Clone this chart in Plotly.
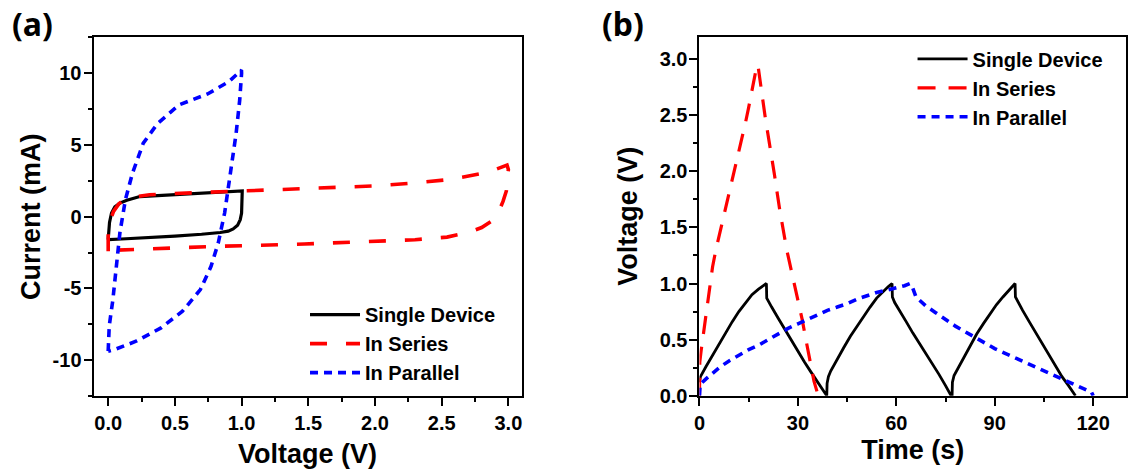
import plotly.graph_objects as go

# ---------------- Panel (a): CV curves ----------------
single_cv_v = [0.0, 0.003, 0.01, 0.025, 0.05, 0.088, 0.14, 0.237, 0.5, 0.75, 1.0, 1.005, 1.0, 0.99, 0.97, 0.937, 0.9, 0.84, 0.7, 0.5, 0.1, 0.0]
single_cv_i = [-1.6, -1.0, -0.4, 0.26, 0.7, 0.95, 1.15, 1.41, 1.55, 1.68, 1.82, 1.8, 0.25, -0.2, -0.6, -0.85, -1.0, -1.1, -1.22, -1.35, -1.55, -1.6]

series_cv_v = [0.0, 0.0, 0.01, 0.04, 0.08, 0.138, 0.2, 0.31, 0.5, 0.75, 0.94, 1.28, 1.6, 2.0, 2.29, 2.56, 2.84, 2.99, 3.0, 2.995, 2.985, 2.96, 2.93, 2.89, 2.8, 2.7, 2.54, 2.3, 2.0, 1.47, 0.8, 0.26, 0.02, 0.0]
series_cv_i = [-2.41, -1.14, -0.4, 0.37, 0.9, 1.3, 1.4, 1.53, 1.62, 1.7, 1.76, 1.9, 1.98, 2.15, 2.35, 2.6, 3.08, 3.6, 3.3, 2.57, 1.8, 1.07, 0.4, -0.2, -0.75, -1.1, -1.42, -1.6, -1.72, -1.9, -2.07, -2.25, -2.34, -2.41]

parallel_cv_v = [0.0, 0.008, 0.035, 0.062, 0.088, 0.129, 0.182, 0.263, 0.37, 0.53, 0.745, 0.905, 0.999, 1.0, 0.986, 0.959, 0.932, 0.905, 0.873, 0.825, 0.771, 0.691, 0.557, 0.396, 0.209, 0.048, 0.0]
parallel_cv_i = [-9.37, -7.6, -5.8, -3.5, -1.1, 1.18, 3.04, 5.13, 6.5, 7.8, 8.56, 9.42, 10.23, 10.0, 8.14, 5.8, 3.97, 2.34, 0.26, -1.83, -3.46, -5.08, -6.59, -7.75, -8.68, -9.26, -9.37]

# ---------------- Panel (b): GCD curves ----------------
single_gcd_t = [0.0, 0.3, 2, 4, 6, 8, 10, 12, 14, 16, 18, 19.5, 20.4,
                20.5, 21, 22, 24, 26, 28, 30, 32, 34, 36, 37.5, 38.6,
                38.8, 38.9, 39.3, 40, 42, 44, 46, 48, 50, 52, 54, 56, 57.5, 58.7,
                58.8, 59.5, 61, 63, 65, 67, 69, 71, 73, 75, 76.4, 76.7,
                77.0, 77.1, 77.6, 78.5, 80.5, 82.5, 84.5, 86.5, 88.5, 90.5, 92.5, 94.5, 96.2,
                96.3, 97, 98.5, 100.5, 102.5, 104.5, 106.5, 108.5, 110.5, 112.5, 114, 114.6]
single_gcd_v = [0.12, 0.17, 0.26, 0.36, 0.47, 0.57, 0.66, 0.75, 0.83, 0.9, 0.95, 0.98, 1.0,
                0.87, 0.84, 0.79, 0.69, 0.59, 0.49, 0.39, 0.3, 0.21, 0.12, 0.05, 0.0,
                0.0, 0.11, 0.17, 0.22, 0.33, 0.43, 0.53, 0.62, 0.71, 0.79, 0.87, 0.93, 0.97, 1.0,
                0.88, 0.83, 0.76, 0.66, 0.56, 0.47, 0.37, 0.28, 0.19, 0.09, 0.02, 0.0,
                0.0, 0.12, 0.18, 0.23, 0.34, 0.45, 0.55, 0.64, 0.73, 0.81, 0.88, 0.95, 1.0,
                0.88, 0.84, 0.76, 0.66, 0.56, 0.46, 0.36, 0.26, 0.17, 0.09, 0.03, 0.0]

series_gcd_t = [0.0, 0.1, 0.5, 1.2, 2, 3, 4, 5, 6.2, 8, 9.5, 11, 12.8, 14, 15, 16, 17.2, 17.8,
                18.3, 20, 22.8, 24.5, 26.6, 28.3, 29.9, 31.3, 32.7, 33.8, 34.9, 36.2]
series_gcd_v = [0.0, 0.3, 0.4, 0.55, 0.75, 0.95, 1.15, 1.3, 1.45, 1.66, 1.86, 2.05, 2.27, 2.43, 2.57, 2.72, 2.9, 2.95,
                2.85, 2.49, 1.98, 1.65, 1.3, 1.08, 0.88, 0.68, 0.46, 0.29, 0.13, 0.0]

parallel_gcd_t = [0.0, 0.2, 2, 4, 6, 9, 12, 15, 18, 21, 24, 27, 30, 33, 36, 39, 42, 45, 48, 51, 54, 57, 60, 62.5, 64.2,
                  65, 66, 67, 69, 72, 75, 78, 81, 84, 87, 90, 93, 96, 99, 102, 105, 108, 111, 114, 117, 119.5, 120]
parallel_gcd_v = [0.0, 0.1, 0.15, 0.2, 0.25, 0.31, 0.36, 0.41, 0.45, 0.5, 0.55, 0.6, 0.64, 0.68, 0.72, 0.76, 0.79, 0.82, 0.86, 0.89, 0.92, 0.94, 0.96, 0.98, 1.0,
                  0.96, 0.88, 0.85, 0.8, 0.74, 0.68, 0.62, 0.57, 0.52, 0.47, 0.42, 0.38, 0.34, 0.3, 0.26, 0.22, 0.18, 0.14, 0.1, 0.06, 0.03, 0.0]

legend_names = ["Single Device", "In Series", "In Parallel"]

# ---------------- styles ----------------
FONT = "Liberation Sans, Arial, sans-serif"
BLACK = "#000000"
RED = "#ff0000"
BLUE = "#0000ff"

fig = go.Figure()

fig.add_trace(go.Scatter(x=single_cv_v, y=single_cv_i, mode="lines", name=legend_names[0],
                         line=dict(color=BLACK, width=3.2), xaxis="x", yaxis="y", legend="legend"))
fig.add_trace(go.Scatter(x=series_cv_v, y=series_cv_i, mode="lines", name=legend_names[1],
                         line=dict(color=RED, width=3.6, dash="17px,19px"), xaxis="x", yaxis="y", legend="legend"))
fig.add_trace(go.Scatter(x=parallel_cv_v, y=parallel_cv_i, mode="lines", name=legend_names[2],
                         line=dict(color=BLUE, width=3.6, dash="8px,6px"), xaxis="x", yaxis="y", legend="legend"))

fig.add_trace(go.Scatter(x=single_gcd_t, y=single_gcd_v, mode="lines", name=legend_names[0],
                         line=dict(color=BLACK, width=2.8), xaxis="x2", yaxis="y2", legend="legend2"))
fig.add_trace(go.Scatter(x=series_gcd_t, y=series_gcd_v, mode="lines", name=legend_names[1],
                         line=dict(color=RED, width=3.2, dash="18px,13px"), xaxis="x2", yaxis="y2", legend="legend2"))
fig.add_trace(go.Scatter(x=parallel_gcd_t, y=parallel_gcd_v, mode="lines", name=legend_names[2],
                         line=dict(color=BLUE, width=3.6, dash="8px,6px"), xaxis="x2", yaxis="y2", legend="legend2"))

tickfont = dict(family=FONT, size=20, color="black", weight="bold")
titlefont = dict(family=FONT, size=27, color="black", weight="bold")

def axis_common():
    return dict(showline=True, linecolor="black", linewidth=2, mirror=True,
                ticks="outside", ticklen=8, tickwidth=2, tickcolor="black",
                showgrid=False, zeroline=False, tickfont=tickfont, automargin=False)

xa = axis_common()
xa.update(domain=[0.0829, 0.4625], range=[-0.11, 3.1], tickmode="array",
          tickvals=[0, 0.5, 1, 1.5, 2, 2.5, 3], ticktext=["0.0", "0.5", "1.0", "1.5", "2.0", "2.5", "3.0"],
          minor=dict(ticks="outside", ticklen=4, tickwidth=2, tickcolor="black", dtick=0.25, tick0=0),
          ticklabelstandoff=0,
          title=dict(text="Voltage (V)", font=titlefont, standoff=11), anchor="y")
ya = axis_common()
ya.update(domain=[0.1592, 0.9204], range=[-12.5, 12.5], tickmode="array",
          tickvals=[-10, -5, 0, 5, 10], ticktext=["-10", "-5", "0", "5", "10"],
          minor=dict(ticks="outside", ticklen=4, tickwidth=2, tickcolor="black", dtick=2.5, tick0=0),
          ticklabelstandoff=-2,
          title=dict(text="Current (mA)", font=titlefont, standoff=4), anchor="x")

xb = axis_common()
xb.update(domain=[0.6201, 0.9982], range=[0, 130], tickmode="array",
          tickvals=[0, 30, 60, 90, 120], ticktext=["0", "30", "60", "90", "120"],
          minor=dict(ticks="outside", ticklen=4, tickwidth=2, tickcolor="black", dtick=15, tick0=0),
          ticklabelstandoff=0,
          title=dict(text="Time (s)", font=titlefont, standoff=7), anchor="y2")
yb = axis_common()
yb.update(domain=[0.1599, 0.9221], range=[0, 3.2], tickmode="array",
          tickvals=[0, 0.5, 1, 1.5, 2, 2.5, 3], ticktext=["0.0", "0.5", "1.0", "1.5", "2.0", "2.5", "3.0"],
          minor=dict(ticks="outside", ticklen=4, tickwidth=2, tickcolor="black", dtick=0.25, tick0=0),
          ticklabelstandoff=-2,
          title=dict(text="Voltage (V)", font=titlefont, standoff=14), anchor="x2")

legfont = dict(family=FONT, size=20, color="black", weight="bold")

fig.update_layout(
    width=1128, height=471,
    margin=dict(l=0, r=0, t=0, b=0),
    paper_bgcolor="white", plot_bgcolor="white",
    xaxis=xa, yaxis=ya, xaxis2=xb, yaxis2=yb,
    showlegend=True,
    legend=dict(x=0.2704, y=0.3735, xanchor="left", yanchor="top", font=legfont,
                bgcolor="rgba(0,0,0,0)", borderwidth=0, itemwidth=50, tracegroupgap=0),
    legend2=dict(x=0.8090, y=0.9166, xanchor="left", yanchor="top", font=legfont,
                 bgcolor="rgba(0,0,0,0)", borderwidth=0, itemwidth=50, tracegroupgap=0),
    annotations=[
        dict(text="(a)", x=0.0089, y=0.951, xref="paper", yref="paper", xanchor="left", yanchor="middle",
             showarrow=False, font=dict(family="Noto Sans, sans-serif", size=32, color="black", weight="bold")),
        dict(text="(b)", x=0.532, y=0.951, xref="paper", yref="paper", xanchor="left", yanchor="middle",
             showarrow=False, font=dict(family="Noto Sans, sans-serif", size=32, color="black", weight="bold")),
    ],
)

fig.write_html("out.html", config={"displayModeBar": False},
               post_script="document.body.style.margin='0';document.body.style.overflow='hidden';")
